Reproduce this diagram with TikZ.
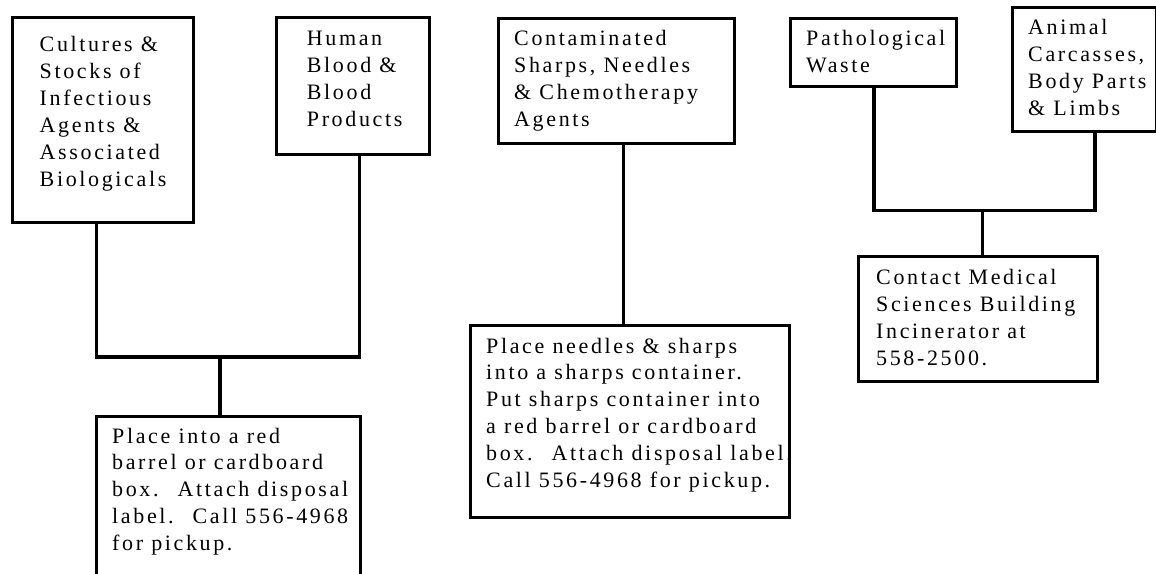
\documentclass[tikz,border=0pt]{standalone}
\usepackage{fontspec}
\setmainfont{Liberation Serif}[LetterSpace=12]
\newcommand{\wastefont}{\fontsize{22}{26.9}\selectfont}
\newcommand{\wastelines}[1]{\begin{tabular}[t]{@{}l@{}}#1\end{tabular}}

\begin{document}
\begin{tikzpicture}[x=1pt, y=-1pt,
    box/.style={draw, line width=3pt, anchor=north west, inner sep=0pt},
    txt/.style={anchor=base west, inner sep=0pt, font=\wastefont},
    wire/.style={line width=3.2pt}]
  \useasboundingbox (0,0) rectangle (1156,573);
  \clip (0,0) rectangle (1156,573);

  % waste categories
  \node[box, minimum width=180.7, minimum height=205] (cult) at (11.3,16.3) {};
  \node[txt] (cultT) at (39.5,51.7) {\wastelines{Cultures \&\\Stocks of\\Infectious\\Agents \&\\Associated\\Biologicals}};
  \node[box, minimum width=153.3, minimum height=136.7] (blood) at (274.7,16.3) {};
  \node[txt] (bloodT) at (306.7,45.7) {\wastelines{Human\\Blood \&\\Blood\\Products}};
  \node[box, minimum width=236.7, minimum height=125.3] (sharps) at (496.7,17) {};
  \node[txt] (sharpsT) at (514,45.7) {\wastelines{Contaminated\\Sharps, Needles\\\& Chemotherapy\\Agents}};
  \node[box, minimum width=166.7, minimum height=68.3] (patho) at (788.7,17) {};
  \node[txt] (pathoT) at (806,45.7) {\wastelines{Pathological\\Waste}};
  \node[box, minimum width=144, minimum height=123.3] (animal) at (1010.7,6.3) {};
  \node[txt] (animalT) at (1028,34.3) {\wastelines{Animal\\Carcasses,\\Body Parts\\\& Limbs}};

  % what to do
  \node[box, minimum width=264.3, minimum height=200] (redbox) at (94.7,414.7) {};
  \node[txt] (redboxT) at (112,443) {\wastelines{Place into a red\\barrel or cardboard\\box.~ Attach disposal\\label.~ Call 556-4968\\for pickup.}};
  \node[box, minimum width=319, minimum height=192.7] (sharpbox) at (469,323.7) {};
  \node[txt] (sharpboxT) at (486,353) {\wastelines{Place needles \& sharps\\into a sharps container.\\Put sharps container into\\a red barrel or cardboard\\box.~ Attach disposal label.\\Call 556-4968 for pickup.}};
  \node[box, minimum width=239, minimum height=124.3] (incin) at (857.3,255.3) {};
  \node[txt] (incinT) at (876,284.3) {\wastelines{Contact Medical\\Sciences Building\\Incinerator at\\558-2500.}};

  % connectors
  \coordinate (leftJ) at (220,357);
  \coordinate (rightJ) at (982.2,210.2);
  \draw[wire] ([xshift=-6.6]cult.south) |- (leftJ) -| ([xshift=7]blood.south);
  \draw[wire] (leftJ) -- (leftJ |- redbox.north);
  \draw[wire] ([xshift=6.7]sharps.south) -- ([xshift=6.7]sharps.south |- sharpbox.north);
  \draw[wire] ([xshift=0.4]patho.south) |- (rightJ) -| ([xshift=10.8]animal.south);
  \draw[wire] (rightJ) -- (rightJ |- incin.north);
\end{tikzpicture}
\end{document}
